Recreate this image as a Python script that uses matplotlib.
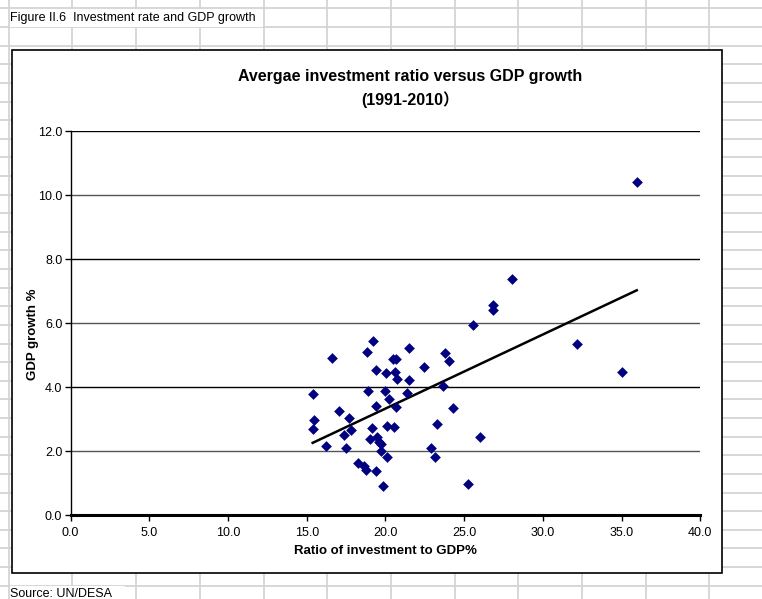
import numpy as np
import matplotlib
matplotlib.use("Agg")
import matplotlib.pyplot as plt
from matplotlib.lines import Line2D
from matplotlib.patches import Rectangle

# investment ratio (% of GDP) and GDP growth (%), 1991-2010 averages
invest = [35.97, 28.02, 26.86, 26.86, 25.58, 32.2, 35.03, 19.23, 16.59, 18.85,
          21.48, 20.46, 20.67, 19.40, 20.04, 20.61, 20.72, 21.50, 22.43, 15.42,
          18.91, 19.97, 21.39, 20.23, 19.40, 20.65, 17.07, 17.71, 15.48, 15.38,
          17.81, 19.15, 20.12, 20.57, 17.39, 16.21, 17.48, 19.02, 19.49, 19.61,
          19.72, 19.72, 20.08, 18.28, 18.66, 18.75, 19.38, 19.87, 23.79, 24.06,
          23.64, 24.28, 23.30, 26.01, 22.90, 23.15, 25.27]
growth = [10.41, 7.39, 6.56, 6.41, 5.94, 5.35, 4.46, 5.45, 4.90, 5.08,
          5.22, 4.88, 4.88, 4.54, 4.43, 4.46, 4.26, 4.23, 4.64, 3.79,
          3.86, 3.89, 3.82, 3.64, 3.40, 3.36, 3.25, 3.04, 2.98, 2.68,
          2.65, 2.71, 2.79, 2.76, 2.49, 2.15, 2.08, 2.39, 2.44, 2.28,
          2.21, 2.00, 1.82, 1.63, 1.53, 1.40, 1.37, 0.91, 5.06, 4.80,
          4.02, 3.34, 2.83, 2.44, 2.08, 1.80, 0.96]

x_ticks = [0, 5, 10, 15, 20, 25, 30, 35, 40]
y_ticks = [0, 2, 4, 6, 8, 10, 12]

W, H = 762, 599
font = ['Liberation Sans', 'Noto Sans CJK SC', 'DejaVu Sans']

fig = plt.figure(figsize=(W / 100, H / 100), dpi=100)

def fx(px):
    return px / W

def fy(py):
    return 1 - py / H

# spreadsheet cell grid in the background
grid_c = '#d4d4d4'
for cx in np.arange(8.7, W, 63.7):
    fig.add_artist(Line2D([fx(cx), fx(cx)], [0, 1], color=grid_c, lw=1.3, zorder=0))
for ry in np.arange(8.4, H, 18.62):
    fig.add_artist(Line2D([0, 1], [fy(ry), fy(ry)], color=grid_c, lw=1.3, zorder=0))

# cell texts (overflowing their cell)
fig.add_artist(Rectangle((fx(9.5), fy(27)), fx(253), 17.8 / H, facecolor='white',
                         edgecolor='none', zorder=1))
fig.text(fx(10), fy(18), 'Figure II.6  Investment rate and GDP growth', fontsize=9,
         family=font, va='center', ha='left', zorder=2)
fig.add_artist(Rectangle((fx(9.5), fy(599)), fx(115), 13 / H, facecolor='white',
                         edgecolor='none', zorder=1))
fig.text(fx(10), fy(594), 'Source: UN/DESA', fontsize=9, family=font,
         va='center', ha='left', zorder=2)

# chart area
fig.add_artist(Rectangle((fx(12), fy(573)), fx(710), (573 - 50) / H, facecolor='white',
                         edgecolor='black', lw=1.2, zorder=1))

ax = fig.add_axes([fx(70.6), fy(515), fx(629.6), 384 / H])
ax.set_zorder(3)
ax.patch.set_alpha(0)

ax.scatter(invest, growth, marker='D', s=30, color='#000080', zorder=4, linewidths=0)

# linear trend line over the data range
k, b = np.polyfit(invest, growth, 1)
xs = np.array([min(invest), max(invest)])
ax.plot(xs, k * xs + b, color='black', lw=1.8, zorder=3)

ax.set_xlim(0, 40)
ax.set_ylim(0, 12)
ax.set_xticks(x_ticks)
ax.set_yticks(y_ticks)
ax.set_xticklabels([f'{v:.1f}' for v in x_ticks], family=font, fontsize=9)
ax.set_yticklabels([f'{v:.1f}' for v in y_ticks], family=font, fontsize=9)
ax.tick_params(axis='x', direction='out', length=4, width=1, pad=5)
ax.tick_params(axis='y', direction='out', length=4, width=1, pad=2)

for yv in y_ticks[1:]:
    ax.axhline(yv, color='black' if yv % 4 == 0 else '#555555', lw=1.0, zorder=1)

for s in ['top', 'right']:
    ax.spines[s].set_visible(False)
ax.spines['bottom'].set_linewidth(2.2)
ax.spines['left'].set_linewidth(1.0)

ax.set_xlabel('Ratio of investment to GDP%', fontsize=9.5, fontweight='bold',
              family=font, labelpad=4)
ax.set_ylabel('GDP growth %', fontsize=9.5, fontweight='bold', family=font)
ax.yaxis.set_label_coords(-0.05, 0.47)

fig.text(fx(410), fy(77), 'Avergae investment ratio versus GDP growth', fontsize=11.5,
         fontweight='bold', family=font, ha='center', va='center', zorder=5)
fig.text(fx(410), fy(100), '(1991-2010）', fontsize=11.5, fontweight='bold',
         family=font, ha='center', va='center', zorder=5)

fig.savefig('out.png', dpi=100)
